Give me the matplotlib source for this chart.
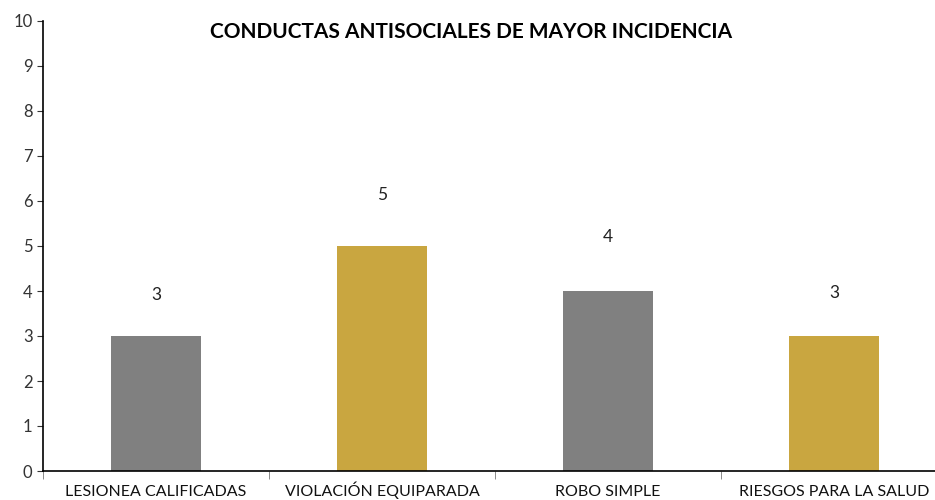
import matplotlib
matplotlib.use("Agg")
from matplotlib import pyplot as plt
import numpy as np

categories = ["LESIONEA CALIFICADAS", "VIOLACIÓN EQUIPARADA", "ROBO SIMPLE", "RIESGOS PARA LA SALUD"]
values = [3, 5, 4, 3]
barColors = ["#808080", "#C9A640", "#808080", "#C9A640"]
# label offsets above bars (points), the source chart places them unevenly
labelOffsets = [24, 31, 33, 25]

plt.rcParams['font.family'] = ['Lato', 'DejaVu Sans']

fig = plt.figure(figsize=(9.35, 5), dpi=100)
ax = fig.add_axes([43 / 935, 29 / 500, 904 / 935, 450 / 500])

x = np.arange(len(categories))
bars = ax.bar(x, values, width=0.4, color=barColors)

for bar, value, offset in zip(bars, values, labelOffsets):
    ax.annotate(str(value), (bar.get_x() + bar.get_width() / 2, bar.get_height()),
                xytext=(0, offset), textcoords="offset points",
                ha="center", va="bottom", fontsize=12.5, color="#222222")

ax.set_xlim(-0.5, len(categories) - 0.5)
ax.set_ylim(0, 10)
ax.set_yticks(range(0, 11))
ax.tick_params(axis="y", labelsize=12, colors="#333333", length=4, direction="out")
ax.set_xticks(x)
ax.set_xticklabels(categories, fontsize=11.5, color="#111111", va="baseline")
ax.tick_params(axis="x", length=0, pad=18)
ax.set_xticks(np.arange(-0.5, len(categories)), minor=True)
ax.tick_params(axis="x", which="minor", length=6, color="#777777")

for side in ["top", "right"]:
    ax.spines[side].set_visible(False)
ax.spines["left"].set_color("black")
ax.spines["bottom"].set_color("black")
ax.spines["left"].set_linewidth(1.2)
ax.spines["bottom"].set_linewidth(1.2)

fig.text(471 / 935, 1 - 32 / 500, "CONDUCTAS ANTISOCIALES DE MAYOR INCIDENCIA",
         ha="center", va="center", fontsize=15, fontweight="bold")

fig.savefig("out.png", dpi=100)
plt.close()
